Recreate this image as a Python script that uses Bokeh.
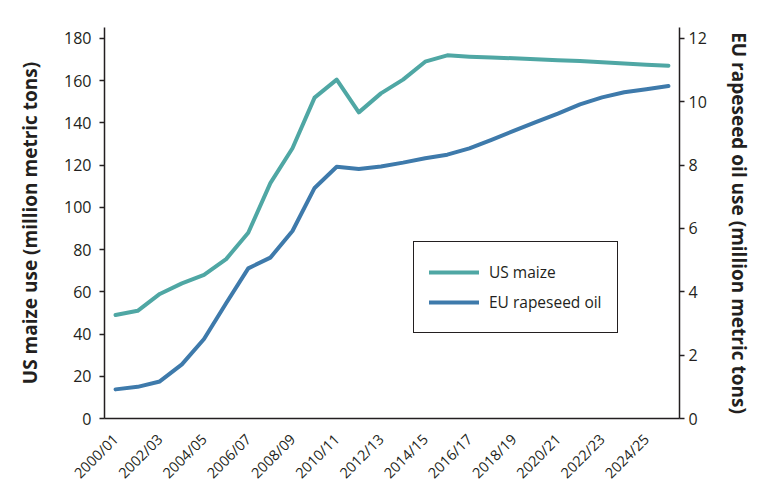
import math
from bokeh.plotting import figure
from bokeh.models import (Range1d, LinearAxis, FixedTicker, Legend, LegendItem)
from bokeh.layouts import column
from bokeh.embed import file_html
from bokeh.resources import INLINE

seasons = ["2000/01", "2001/02", "2002/03", "2003/04", "2004/05", "2005/06", "2006/07",
           "2007/08", "2008/09", "2009/10", "2010/11", "2011/12", "2012/13", "2013/14",
           "2014/15", "2015/16", "2016/17", "2017/18", "2018/19", "2019/20", "2020/21",
           "2021/22", "2022/23", "2023/24", "2024/25", "2025/26"]
us_maize = [49, 51, 59, 64, 68, 75.5, 88, 111.5, 128, 152, 160.5, 145, 154, 160.5, 169, 172,
            171.4, 171.0, 170.6, 170.2, 169.7, 169.3, 168.7, 168.2, 167.6, 167.1]
eu_rapeseed = [0.92, 1.0, 1.17, 1.71, 2.51, 3.64, 4.74, 5.08, 5.92, 7.28, 7.95, 7.88, 7.96,
               8.08, 8.22, 8.33, 8.53, 8.80, 9.08, 9.36, 9.63, 9.92, 10.14, 10.30, 10.40, 10.50]
left_ticks = [0, 20, 40, 60, 80, 100, 120, 140, 160, 180]
right_ticks = [0, 2, 4, 6, 8, 10, 12]
labelled = [0, 2, 4, 6, 8, 10, 12, 14, 16, 18, 20, 22, 24]

TEAL = "#4fa7a4"
BLUE = "#3e7aab"
BAR = "#53a7a5"
DARK = "#231f20"
FONT = "Open Sans"

x = list(range(len(seasons)))

# thin teal band across the top of the page: a tiny figure painted teal
band = figure(width=748, height=5, output_backend="svg", toolbar_location=None,
              title=None, min_border=0, margin=(4, 0, 0, 12),
              x_range=Range1d(0, 1), y_range=Range1d(0, 1),
              x_axis_location=None, y_axis_location=None)
band.grid.visible = False
band.outline_line_color = None
band.background_fill_color = BAR
band.border_fill_color = BAR

p = figure(width=760, height=482, output_backend="svg", toolbar_location=None,
           x_range=Range1d(-0.5, len(seasons) - 0.5), y_range=Range1d(0, 185.2),
           min_border_left=104, min_border_right=81, min_border_top=18, min_border_bottom=71,
           margin=0)
p.extra_y_ranges = {"eu": Range1d(0, 185.2 * 12 / 180)}
p.outline_line_color = None
p.grid.visible = False

r1 = p.line(x, us_maize, line_color=TEAL, line_width=4, line_cap="round", line_join="round")
r2 = p.line(x, eu_rapeseed, line_color=BLUE, line_width=4, line_cap="round", line_join="round",
            y_range_name="eu")

# x axis
xa = p.xaxis[0]
xa.ticker = FixedTicker(ticks=labelled)
xa.major_label_overrides = {i: seasons[i] for i in labelled}
xa.major_label_orientation = math.pi / 4

# left axis
ya = p.yaxis[0]
ya.ticker = FixedTicker(ticks=left_ticks)
ya.axis_label = "US maize use (million metric tons)"

# right axis
ra = LinearAxis(y_range_name="eu", ticker=FixedTicker(ticks=right_ticks),
                axis_label="EU rapeseed oil use (million metric tons)")
p.add_layout(ra, "right")

for ax in [xa, ya, ra]:
    ax.axis_line_color = DARK
    ax.axis_line_width = 1.5
    ax.major_tick_in = 0
    ax.major_tick_out = 5
    ax.major_tick_line_width = 1.5
    ax.major_tick_line_color = DARK
    ax.minor_tick_line_color = None
    ax.major_label_text_font = FONT
    ax.major_label_text_font_size = "16px"
    ax.major_label_text_color = DARK
    ax.axis_label_text_font = FONT
    ax.axis_label_text_font_size = "19px"
    ax.axis_label_text_font_style = "bold"
    ax.axis_label_text_color = DARK

xa.major_tick_line_color = None
xa.major_label_text_font_size = "14.5px"
xa.major_label_standoff = 13
ya.major_label_standoff = 8
ya.axis_label_standoff = 18
ra.major_label_standoff = 4
ra.axis_label_standoff = 16

legend = Legend(items=[LegendItem(label="US maize", renderers=[r1]),
                       LegendItem(label="EU rapeseed oil", renderers=[r2])],
                location=(309, 85))
legend.glyph_width = 50
legend.glyph_height = 30
legend.label_height = 30
legend.label_standoff = 10
legend.padding = 15
legend.spacing = 0
legend.margin = 0
legend.label_text_font = FONT
legend.label_text_font_size = "15.5px"
legend.label_text_color = DARK
legend.border_line_color = DARK
legend.border_line_alpha = 1
legend.border_line_width = 1.5
legend.background_fill_alpha = 1
p.add_layout(legend, "center")

layout = column(band, p, spacing=0, margin=0)

open("out.html", "w").write(file_html(layout, INLINE))
